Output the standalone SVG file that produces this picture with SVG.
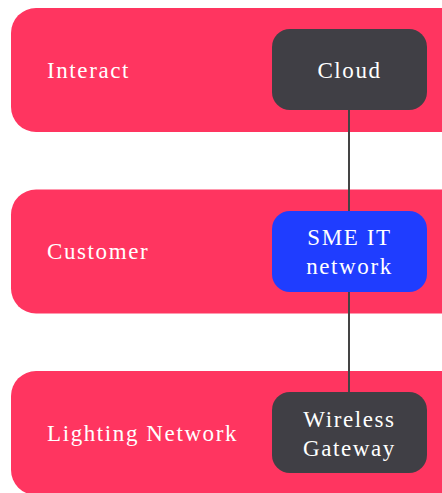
<svg xmlns="http://www.w3.org/2000/svg" width="442" height="493" viewBox="0 0 442 493">
<style>
.lane{fill:#FF3560;}
.node{stroke:none;}
.dark{fill:#403F45;}
.blue{fill:#1F3DFF;}
text{font-size:23px;fill:#FFFFFF;letter-spacing:1.6px;}
.c{text-anchor:middle;}
.edge{stroke:#444444;stroke-width:2;fill:none;}
</style>
<rect width="442" height="493" fill="#FFFFFF"/>
<g font-family="'Liberation Serif', 'Times New Roman', serif">
<g id="lane-interact"><rect class="lane" x="11" y="8" width="460" height="124" rx="25"/><text x="47" y="78">Interact</text></g>
<g id="lane-customer"><rect class="lane" x="11" y="189.5" width="460" height="124" rx="25"/><text x="47" y="259">Customer</text></g>
<g id="lane-lighting"><rect class="lane" x="11" y="371" width="460" height="124" rx="25"/><text x="47" y="441">Lighting Network</text></g>
<g id="connectors">
<line class="edge" x1="349" y1="110" x2="349" y2="211"/>
<line class="edge" x1="349" y1="292" x2="349" y2="392"/>
</g>
<g id="node-cloud"><rect class="node dark" x="272" y="29" width="155" height="81" rx="18"/><text class="c" x="349.5" y="78">Cloud</text></g>
<g id="node-sme"><rect class="node blue" x="272" y="211" width="155" height="81" rx="18"/><text class="c" x="349.5" y="245">SME IT</text><text class="c" x="349.5" y="274">network</text></g>
<g id="node-gateway"><rect class="node dark" x="272" y="392" width="155" height="81" rx="18"/><text class="c" x="349.5" y="427">Wireless</text><text class="c" x="349.5" y="456">Gateway</text></g>
</g>
</svg>
